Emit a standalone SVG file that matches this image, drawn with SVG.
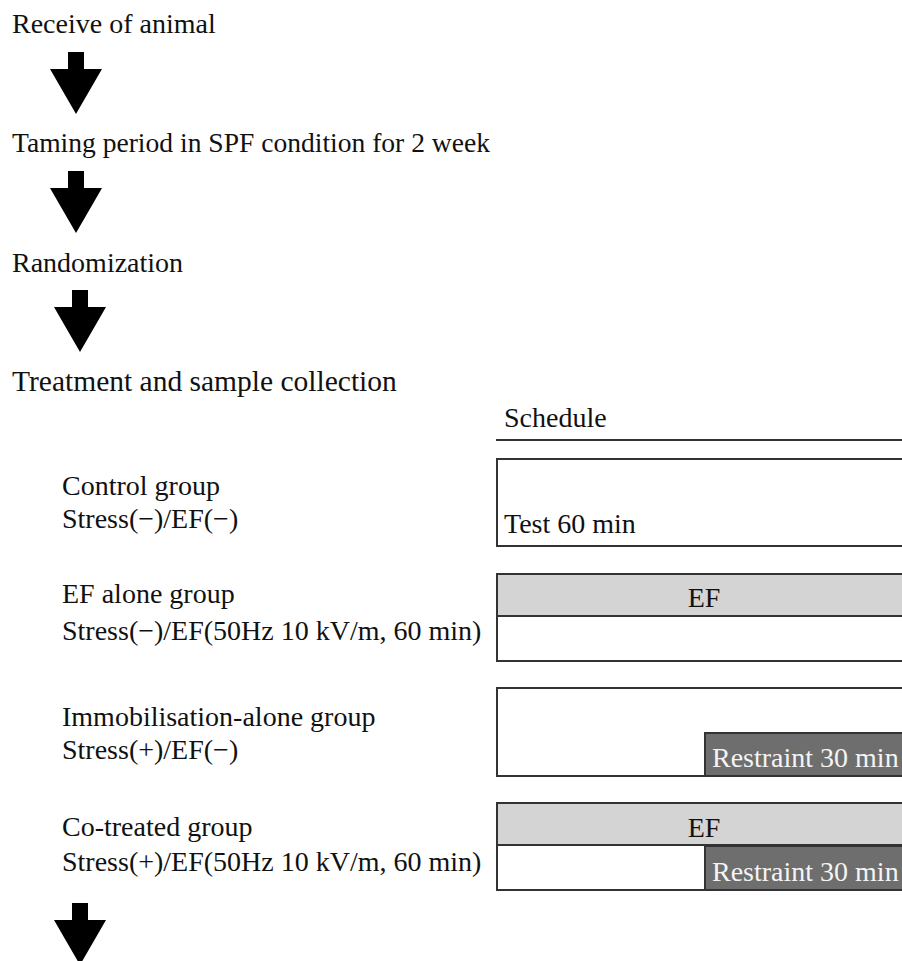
<svg xmlns="http://www.w3.org/2000/svg" width="902" height="961" viewBox="0 0 902 961">
<style>
text{font-family:"Liberation Serif",Tinos,"Times New Roman",Times,"Noto Serif","DejaVu Serif",serif;font-size:28px;fill:#111}
.box{fill:#fff;stroke:#333;stroke-width:2}
.ef{fill:#d4d4d4;stroke:#333;stroke-width:2}
.rs{fill:#6e6e6e;stroke:#333;stroke-width:2}
.rt{fill:#f4f4f4}
.arr{fill:#000}
</style>
<defs>
<path id="arrow" d="M-8,0 H8 V17 H26 L0,62 L-26,17 H-8 Z"/>
</defs>
<rect width="902" height="961" fill="#fff"/>
<g id="step1"><text x="12" y="33">Receive of animal</text></g>
<g id="step2"><text x="12" y="152" textLength="478" lengthAdjust="spacingAndGlyphs">Taming period in SPF condition for 2 week</text></g>
<g id="step3"><text x="12" y="272">Randomization</text></g>
<g id="step4"><text x="12" y="391" style="font-size:29.5px">Treatment and sample collection</text></g>
<g id="connectors">
<use href="#arrow" class="arr" x="76" y="52"/>
<use href="#arrow" class="arr" x="76" y="171"/>
<use href="#arrow" class="arr" x="80" y="290"/>
<use href="#arrow" class="arr" x="80" y="903"/>
</g>
<g id="schedule">
<text x="504" y="427">Schedule</text>
<line x1="496" y1="440" x2="902" y2="440" stroke="#333" stroke-width="2"/>
</g>
<g id="control">
<text x="62" y="495">Control group</text>
<text x="62" y="528">Stress(−)/EF(−)</text>
<rect class="box" x="497" y="459" width="410" height="87"/>
<text x="504" y="533">Test 60 min</text>
</g>
<g id="ef-alone">
<text x="62" y="603">EF alone group</text>
<text x="62" y="640">Stress(−)/EF(50Hz 10 kV/m, 60 min)</text>
<rect class="box" x="497" y="574" width="410" height="87"/>
<rect class="ef" x="497" y="574" width="410" height="42"/>
<text x="704" y="607" text-anchor="middle">EF</text>
</g>
<g id="immobilisation">
<text x="62" y="726">Immobilisation-alone group</text>
<text x="62" y="759">Stress(+)/EF(−)</text>
<rect class="box" x="497" y="688" width="410" height="88"/>
<rect class="rs" x="705" y="733" width="202" height="43"/>
<text class="rt" x="712" y="767">Restraint 30 min</text>
</g>
<g id="co-treated">
<text x="62" y="836">Co-treated group</text>
<text x="62" y="871">Stress(+)/EF(50Hz 10 kV/m, 60 min)</text>
<rect class="box" x="497" y="803" width="410" height="87"/>
<rect class="ef" x="497" y="803" width="410" height="42"/>
<text x="704" y="837" text-anchor="middle">EF</text>
<rect class="rs" x="705" y="846" width="202" height="44"/>
<text class="rt" x="712" y="881">Restraint 30 min</text>
</g>
</svg>
